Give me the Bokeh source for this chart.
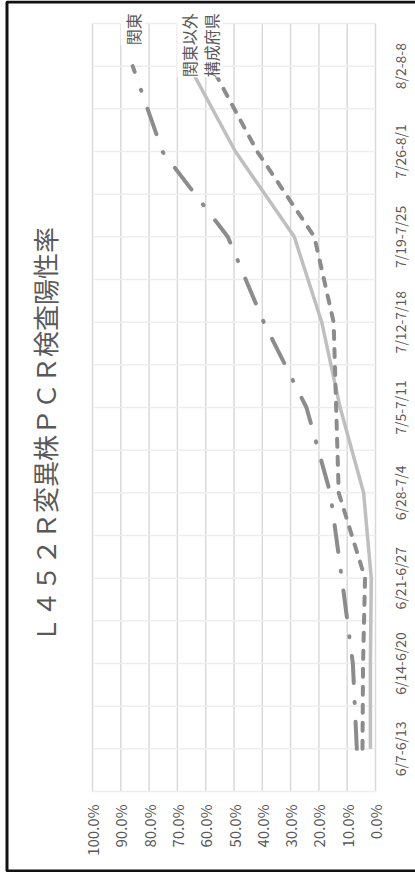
import math

from bokeh.core.properties import value
from bokeh.embed import file_html
from bokeh.models import BoxAnnotation, Label, Range1d
from bokeh.plotting import figure
from bokeh.resources import INLINE

# ---- data -------------------------------------------------------------
weeks = ["6/7-6/13", "6/14-6/20", "6/21-6/27", "6/28-7/4", "7/5-7/11",
         "7/12-7/18", "7/19-7/25", "7/26-8/1", "8/2-8-8"]
kanto = [6.6, 8.0, 11.9, 16.0, 24.4, 39.5, 52.2, 75.3, 85.8]         # 関東
kanto_igai = [1.8, 1.8, 1.5, 4.2, 12.5, 19.0, 28.7, 49.5, 65.8]      # 関東以外
kosei = [4.6, 4.4, 3.7, 13.0, 13.9, 14.8, 21.6, 41.8, 58.0]          # 構成府県
pct_ticks = [0, 10, 20, 30, 40, 50, 60, 70, 80, 90, 100]
series_names = ["関東", "関東以外", "構成府県"]
title_text = "Ｌ４５２Ｒ変異株ＰＣＲ検査陽性率"

# ---- layout: chart turned a quarter turn, percent runs right -> left ----
W, H = 415, 872
PLOT_L, PLOT_R, PLOT_T, PLOT_B = 92, 375, 23, 791   # plot-area edges (px)
N = len(weeks)
FONT = "Noto Sans CJK JP"
TEXT_COLOR = "#595959"


def x_at(px):
    """Percent value at canvas column px (100 % at PLOT_L, 0 % at PLOT_R)."""
    return 100 - (px - PLOT_L) / (PLOT_R - PLOT_L) * 100


def y_at(py):
    """Category coordinate at canvas row py."""
    return -0.5 + (PLOT_B - py) / (PLOT_B - PLOT_T) * N


p = figure(width=W, height=H, output_backend="svg", toolbar_location=None,
           x_range=Range1d(x_at(0), x_at(W)), y_range=Range1d(y_at(H), y_at(0)),
           x_axis_type=None, y_axis_type=None, min_border=0)
p.outline_line_color = None
p.background_fill_color = "white"
p.border_fill_color = "white"

idx = list(range(N))

# ---- grid -------------------------------------------------------------
p.segment(x0=pct_ticks, y0=[-0.5] * len(pct_ticks),
          x1=pct_ticks, y1=[N - 0.5] * len(pct_ticks),
          line_color="#d9d9d9", line_width=1.5)
half_steps = [-0.5 + 0.5 * k for k in range(2 * N + 1)]
p.segment(x0=[0] * len(half_steps), y0=half_steps,
          x1=[100] * len(half_steps), y1=half_steps,
          line_color="#eeeeee", line_width=1.5)

# ---- value axis labels (under the plot) --------------------------------
p.text(x=pct_ticks, y=[y_at(804)] * len(pct_ticks),
       text=[f"{t:.1f}%" for t in pct_ticks], angle=math.pi / 2,
       text_align="right", text_baseline="middle",
       text_font=value(FONT), text_font_size="15px", text_color=TEXT_COLOR)

# ---- category labels (right of the plot) -------------------------------
p.text(x=[x_at(389)] * N, y=idx, text=weeks, angle=math.pi / 2,
       text_align="center", text_baseline="top",
       text_font=value(FONT), text_font_size="14px", text_color=TEXT_COLOR)

# ---- series -----------------------------------------------------------
p.line(kanto_igai, idx, line_color="#bfbfbf", line_width=3.5,
       line_join="round")
p.line(kosei, idx, line_color="#8c8c8c", line_width=4, line_dash="8 10",
       line_cap="round", line_join="round")
p.line(kanto, idx, line_color="#8c8c8c", line_width=4,
       line_dash="27 19 1 19", line_cap="round", line_join="round")

# end-of-line series labels
for name, vals in zip(series_names, [kanto, kanto_igai, kosei]):
    p.add_layout(Label(x=vals[-1], y=N - 1, text=name, angle=math.pi / 2,
                       text_align="right", text_baseline="middle",
                       y_offset=53, text_font=FONT,
                       text_font_size="16px", text_color=TEXT_COLOR,
                       background_fill_color="white"))

# ---- title ------------------------------------------------------------
p.add_layout(Label(x=x_at(44), y=y_at(434.5), text=title_text,
                   angle=math.pi / 2, text_align="center",
                   text_baseline="middle", text_font=FONT,
                   text_font_size="26px", text_color=TEXT_COLOR))

# ---- chart-area border --------------------------------------------------
p.add_layout(BoxAnnotation(left=x_at(6.5), right=x_at(440), top=y_at(1.5),
                           bottom=y_at(870.5), fill_alpha=0,
                           line_color="#111111", line_alpha=1.0,
                           line_width=3))

open("out.html", "w").write(file_html(p, INLINE))
